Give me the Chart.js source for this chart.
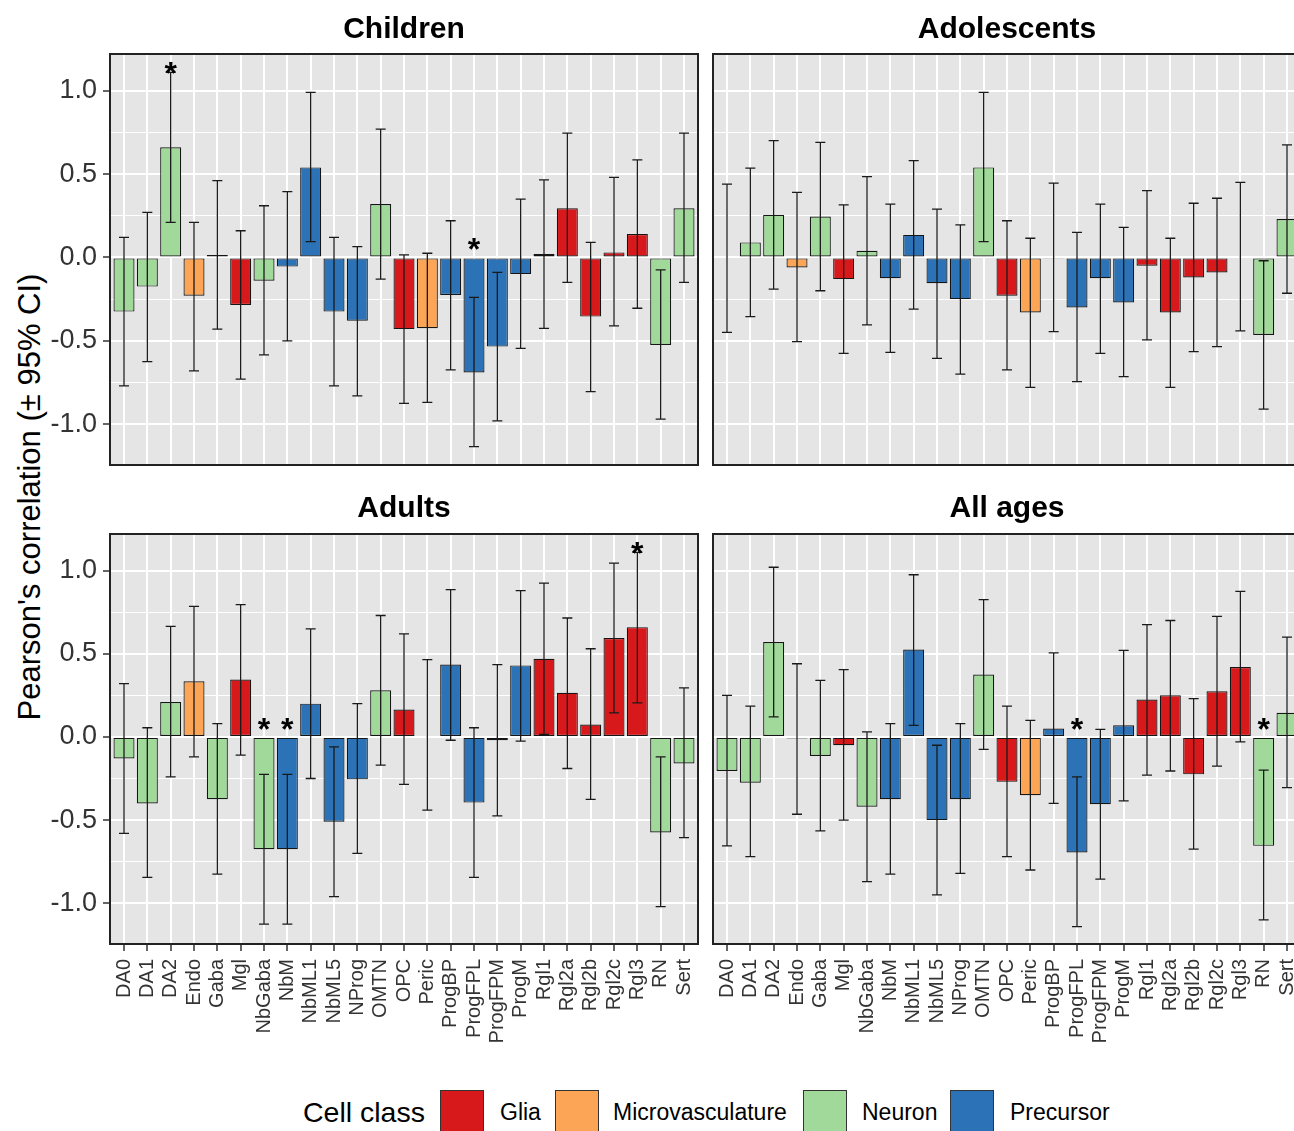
<!DOCTYPE html>
<html>
<head>
<meta charset="utf-8">
<script src="https://cdn.jsdelivr.net/npm/chart.js@4.4.1/dist/chart.umd.min.js"></script>
<style>
  body { margin: 0; width: 1294px; height: 1131px; overflow: hidden; position: relative; background: #fff;
         font-family: 'Liberation Sans', Arial, sans-serif; }
  canvas { position: absolute; }
  #ytitle { position: absolute; left: 30px; top: 497px; transform: translate(-50%, -50%) rotate(-90deg);
            white-space: nowrap; font-size: 31px; color: #000; }
  .lg { position: absolute; top: 1090px; height: 44px; line-height: 44px; white-space: nowrap; color: #000; }
  .box { position: absolute; top: 1090px; width: 42px; height: 42px; border: 1px solid #333; }
</style>
</head>
<body>
<div id="ytitle">Pearson's correlation (± 95% CI)</div>
<canvas id="children" width="700" height="470" style="left:0;top:0"></canvas>
<canvas id="adolescents" width="603" height="470" style="left:700px;top:0"></canvas>
<canvas id="adults" width="700" height="584" style="left:0;top:470px"></canvas>
<canvas id="allages" width="603" height="584" style="left:700px;top:470px"></canvas>

<div class="lg" style="left:303px;font-size:28.5px">Cell class</div>
<div class="box" style="left:440px;background:#D7191C"></div>
<div class="lg" style="left:500px;font-size:23px">Glia</div>
<div class="box" style="left:555px;background:#FDA556"></div>
<div class="lg" style="left:613px;font-size:23px">Microvasculature</div>
<div class="box" style="left:803px;background:#A1D99B"></div>
<div class="lg" style="left:862px;font-size:23px">Neuron</div>
<div class="box" style="left:950px;background:#2B72B6"></div>
<div class="lg" style="left:1010px;font-size:23px">Precursor</div>

<script>
const FONT = "'Liberation Sans', Arial, sans-serif";

const cats = ['DA0', 'DA1', 'DA2', 'Endo', 'Gaba', 'Mgl', 'NbGaba', 'NbM', 'NbML1', 'NbML5', 'NProg', 'OMTN', 'OPC',
    'Peric', 'ProgBP', 'ProgFPL', 'ProgFPM', 'ProgM', 'Rgl1', 'Rgl2a', 'Rgl2b', 'Rgl2c', 'Rgl3', 'RN', 'Sert'];
const cellClass = ['Neuron', 'Neuron', 'Neuron', 'Microvasculature', 'Neuron', 'Glia', 'Neuron', 'Precursor',
    'Precursor', 'Precursor', 'Precursor', 'Neuron', 'Glia', 'Microvasculature', 'Precursor', 'Precursor',
    'Precursor', 'Precursor', 'Glia', 'Glia', 'Glia', 'Glia', 'Glia', 'Neuron', 'Neuron'];
const classColors = { Glia: '#D7191C', Microvasculature: '#FDA556', Neuron: '#A1D99B', Precursor: '#2B72B6' };

// Children
const childR  = [-0.325, -0.175, 0.66, -0.23, 0.015, -0.285, -0.14, -0.055, 0.54, -0.325, -0.38, 0.32, -0.43,
    -0.425, -0.225, -0.69, -0.535, -0.1, 0.02, 0.295, -0.355, 0.03, 0.14, -0.525, 0.295];
const childLo = [-0.77, -0.625, 0.21, -0.68, -0.43, -0.73, -0.585, -0.5, 0.095, -0.77, -0.83, -0.13, -0.875,
    -0.87, -0.675, -1.135, -0.98, -0.545, -0.425, -0.15, -0.805, -0.41, -0.305, -0.97, -0.15];
const childHi = [0.12, 0.27, 1.11, 0.21, 0.46, 0.16, 0.31, 0.395, 0.99, 0.12, 0.065, 0.77, 0.015,
    0.025, 0.22, -0.24, -0.09, 0.35, 0.465, 0.745, 0.09, 0.48, 0.585, -0.075, 0.745];
const childSig = ['DA2', 'ProgFPL'];

// Adolescents
const adolR  = [0.005, 0.09, 0.255, -0.06, 0.245, -0.13, 0.04, -0.125, 0.135, -0.155, -0.25, 0.54, -0.23,
    -0.33, -0.005, -0.3, -0.125, -0.27, -0.05, -0.33, -0.12, -0.09, 0.005, -0.465, 0.23];
const adolLo = [-0.45, -0.355, -0.19, -0.505, -0.2, -0.575, -0.405, -0.57, -0.31, -0.605, -0.7, 0.095, -0.675,
    -0.78, -0.445, -0.745, -0.575, -0.715, -0.495, -0.78, -0.565, -0.535, -0.44, -0.91, -0.215];
const adolHi = [0.44, 0.535, 0.7, 0.39, 0.69, 0.315, 0.485, 0.32, 0.58, 0.29, 0.195, 0.99, 0.22,
    0.115, 0.445, 0.15, 0.32, 0.18, 0.4, 0.115, 0.325, 0.355, 0.45, -0.02, 0.675];
const adolSig = [];

// Adults
const adultR  = [-0.13, -0.4, 0.21, 0.335, -0.375, 0.345, -0.675, -0.675, 0.2, -0.51, -0.255, 0.28, 0.165,
    0.005, 0.435, -0.395, -0.02, 0.43, 0.47, 0.265, 0.075, 0.595, 0.66, -0.575, -0.16];
const adultLo = [-0.58, -0.845, -0.24, -0.12, -0.825, -0.11, -1.125, -1.125, -0.25, -0.96, -0.7, -0.17, -0.285,
    -0.44, -0.02, -0.845, -0.475, -0.025, 0.015, -0.19, -0.375, 0.145, 0.205, -1.02, -0.605];
const adultHi = [0.32, 0.055, 0.665, 0.785, 0.08, 0.795, -0.225, -0.225, 0.65, -0.06, 0.2, 0.73, 0.62,
    0.465, 0.885, 0.055, 0.435, 0.88, 0.925, 0.715, 0.53, 1.045, 1.11, -0.12, 0.295];
const adultSig = ['NbGaba', 'NbM', 'Rgl3'];

// All ages
const allR  = [-0.205, -0.275, 0.57, -0.01, -0.115, -0.05, -0.42, -0.375, 0.525, -0.5, -0.375, 0.375, -0.27,
    -0.35, 0.05, -0.695, -0.405, 0.07, 0.225, 0.25, -0.225, 0.275, 0.42, -0.655, 0.145];
const allLo = [-0.655, -0.72, 0.12, -0.465, -0.565, -0.5, -0.87, -0.825, 0.07, -0.95, -0.82, -0.075, -0.72,
    -0.8, -0.4, -1.14, -0.855, -0.385, -0.23, -0.205, -0.675, -0.175, -0.03, -1.1, -0.305];
const allHi = [0.25, 0.185, 1.02, 0.44, 0.34, 0.405, 0.03, 0.08, 0.975, -0.05, 0.08, 0.825, 0.185,
    0.1, 0.505, -0.24, 0.045, 0.52, 0.675, 0.7, 0.23, 0.725, 0.875, -0.2, 0.6];
const allSig = ['ProgFPL', 'RN'];

const yTicks = [-1, -0.75, -0.5, -0.25, 0, 0.25, 0.5, 0.75, 1];
const isMajor = v => Math.abs(v * 2 - Math.round(v * 2)) < 1e-6;

// panel background, error bars, significance stars and border
function decor(lo, hi, sig) {
    return {
        id: 'decor',
        beforeDraw(chart) {
            const { ctx, chartArea: a } = chart;
            ctx.save();
            ctx.fillStyle = '#E5E5E5';
            ctx.fillRect(a.left, a.top, a.width, a.height);
            ctx.restore();
        },
        afterDatasetsDraw(chart) {
            const { ctx, chartArea: a, scales: { x, y } } = chart;
            ctx.save();
            ctx.strokeStyle = '#1a1a1a';
            ctx.lineWidth = 1.3;
            lo.forEach((l, i) => {
                const px = x.getPixelForValue(i);
                const y1 = y.getPixelForValue(l);
                const y2 = y.getPixelForValue(hi[i]);
                ctx.beginPath();
                ctx.moveTo(px, y1); ctx.lineTo(px, y2);
                ctx.moveTo(px - 5, y1); ctx.lineTo(px + 5, y1);
                ctx.moveTo(px - 5, y2); ctx.lineTo(px + 5, y2);
                ctx.stroke();
            });
            ctx.fillStyle = '#000';
            ctx.font = 'bold 32px ' + FONT;
            ctx.textAlign = 'center';
            ctx.textBaseline = 'alphabetic';
            sig.forEach(name => {
                const i = cats.indexOf(name);
                const v = hi[i] > 0 ? hi[i] + 0.04 : 0.09;
                ctx.fillText('*', x.getPixelForValue(i), y.getPixelForValue(v) + 18);
            });
            ctx.strokeStyle = '#222';
            ctx.lineWidth = 2;
            ctx.strokeRect(a.left, a.top, a.width, a.height);
            ctx.restore();
        }
    };
}

function panel(id, title, r, lo, hi, sig, left, bottom) {
    const ctx = document.getElementById(id).getContext('2d');
    return new Chart(ctx, {
        type: 'bar',
        data: {
            datasets: [{
                data: r.map((v, i) => ({ x: i, y: v })),
                backgroundColor: cellClass.map(c => classColors[c]),
                borderColor: '#151515',
                borderWidth: 1.2,
                borderSkipped: false,
                barPercentage: 0.9,
                categoryPercentage: 1
            }]
        },
        options: {
            responsive: false,
            animation: false,
            layout: { padding: { right: 2 } },
            plugins: {
                legend: { display: false },
                tooltip: { enabled: false },
                title: {
                    display: true,
                    text: title,
                    fullSize: false,
                    color: '#000',
                    font: { family: FONT, size: 30, weight: 'bold' },
                    padding: bottom ? { top: 21, bottom: 7 } : { top: 12, bottom: 6 }
                }
            },
            scales: {
                x: {
                    type: 'linear',
                    min: -0.6,
                    max: 24.6,
                    offset: false,
                    afterBuildTicks: axis => { axis.ticks = cats.map((c, i) => ({ value: i })); },
                    afterFit: s => { s.height = bottom ? 110 : 5; s.paddingLeft = 0; s.paddingRight = 0; },
                    border: { display: false },
                    grid: {
                        offset: false,
                        color: '#fff',
                        lineWidth: 2,
                        drawTicks: bottom,
                        tickLength: 7,
                        tickColor: '#333',
                        tickWidth: 1.5
                    },
                    ticks: {
                        display: bottom,
                        autoSkip: false,
                        minRotation: 90,
                        maxRotation: 90,
                        padding: 8,
                        color: '#333',
                        font: { family: FONT, size: 20 },
                        callback: v => cats[v]
                    }
                },
                y: {
                    min: -1.245,
                    max: 1.22,
                    afterBuildTicks: axis => { axis.ticks = yTicks.map(v => ({ value: v })); },
                    afterFit: s => { s.width = left ? 110 : 13; s.paddingTop = 0; s.paddingBottom = 0; },
                    border: { display: false },
                    grid: {
                        color: '#fff',
                        lineWidth: c => isMajor(c.tick.value) ? 2 : 1,
                        drawTicks: left,
                        tickLength: 7,
                        tickWidth: 1.5,
                        tickColor: c => isMajor(c.tick.value) ? '#333' : 'rgba(0,0,0,0)'
                    },
                    ticks: {
                        display: left,
                        padding: 6,
                        color: '#333',
                        font: { family: FONT, size: 27 },
                        callback: v => isMajor(v) ? v.toFixed(1) : ''
                    }
                }
            }
        },
        plugins: [decor(lo, hi, sig)]
    });
}

const childrenChart = panel('children', 'Children', childR, childLo, childHi, childSig, true, false);
const adolescentsChart = panel('adolescents', 'Adolescents', adolR, adolLo, adolHi, adolSig, false, false);
const adultsChart = panel('adults', 'Adults', adultR, adultLo, adultHi, adultSig, true, true);
const allAgesChart = panel('allages', 'All ages', allR, allLo, allHi, allSig, false, true);
</script>
</body>
</html>
